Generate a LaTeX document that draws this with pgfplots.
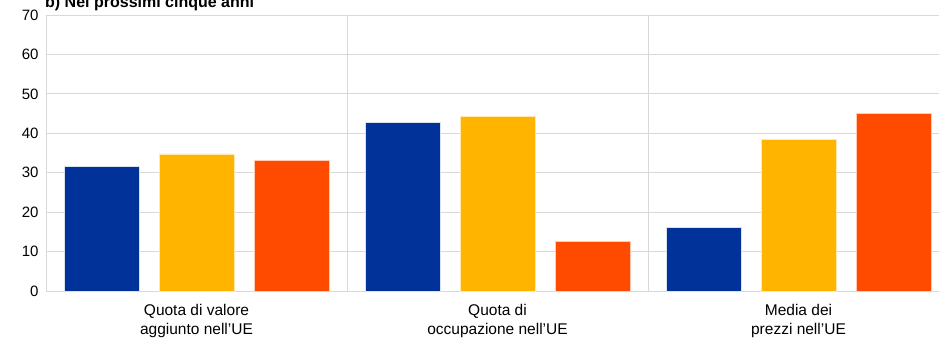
\documentclass[border=0pt]{standalone}
\usepackage{pgfplots}
\pgfplotsset{compat=1.18}
\usepackage{fontspec}
\setmainfont{Liberation Sans}
\definecolor{ecbblue}{HTML}{003299}
\definecolor{ecbyellow}{HTML}{FFB400}
\definecolor{ecborange}{HTML}{FF4B00}
\definecolor{gridgray}{HTML}{D9D9D9}

\pgfplotstableread{
x first second third
0 31.6 34.8 33.2
1 42.8 44.3 12.6
2 16.1 38.5 45.0
}\shares

\begin{document}
\begin{tikzpicture}
\begin{axis}[
  scale only axis,
  width=903bp, height=276bp,
  xmin=-0.5, xmax=2.5,
  ymin=0, ymax=70,
  ytick={0,10,...,70},
  xtick={0,1,2},
  xticklabels={{Quota di valore\\aggiunto nell’UE},{Quota di\\occupazione nell’UE},{Media dei\\prezzi nell’UE}},
  xticklabel style={align=center, font=\fontsize{15.5bp}{18.5bp}\selectfont, yshift=-10bp},
  yticklabel style={font=\fontsize{15bp}{17bp}\selectfont, xshift=-4bp},
  /pgf/number format/assume math mode=true,
  major tick length=0pt,
  ymajorgrids,
  grid style={gridgray, line width=0.9bp},
  axis line style={gridgray, line width=1bp},
  axis x line*=bottom,
  axis y line*=left,
  extra x ticks={0.5,1.5},
  extra x tick labels={},
  extra x tick style={xmajorgrids, grid style={gridgray, line width=0.9bp}},
  ybar, bar width=0.249,
  clip=false,
]
\addplot[fill=ecbblue, draw=white!85!ecbblue, line width=0.4bp, bar shift=-0.3156] table[x=x, y=first] {\shares};
\addplot[fill=ecbyellow, draw=white!70!ecbyellow, line width=0.4bp, bar shift=0] table[x=x, y=second] {\shares};
\addplot[fill=ecborange, draw=white!70!ecborange, line width=0.4bp, bar shift=0.3156] table[x=x, y=third] {\shares};
\coordinate (origin) at (rel axis cs:0,0);
\node[anchor=base west, font=\bfseries\fontsize{16bp}{18bp}\selectfont, inner sep=0pt]
  at ([xshift=-1bp,yshift=8bp]rel axis cs:0,1) {b) Nel prossimi cinque anni};
\end{axis}
\pgfresetboundingbox
\path[use as bounding box] (origin) ++(-46bp,-47bp) rectangle ++(939bp,338bp);
\end{tikzpicture}
\end{document}
